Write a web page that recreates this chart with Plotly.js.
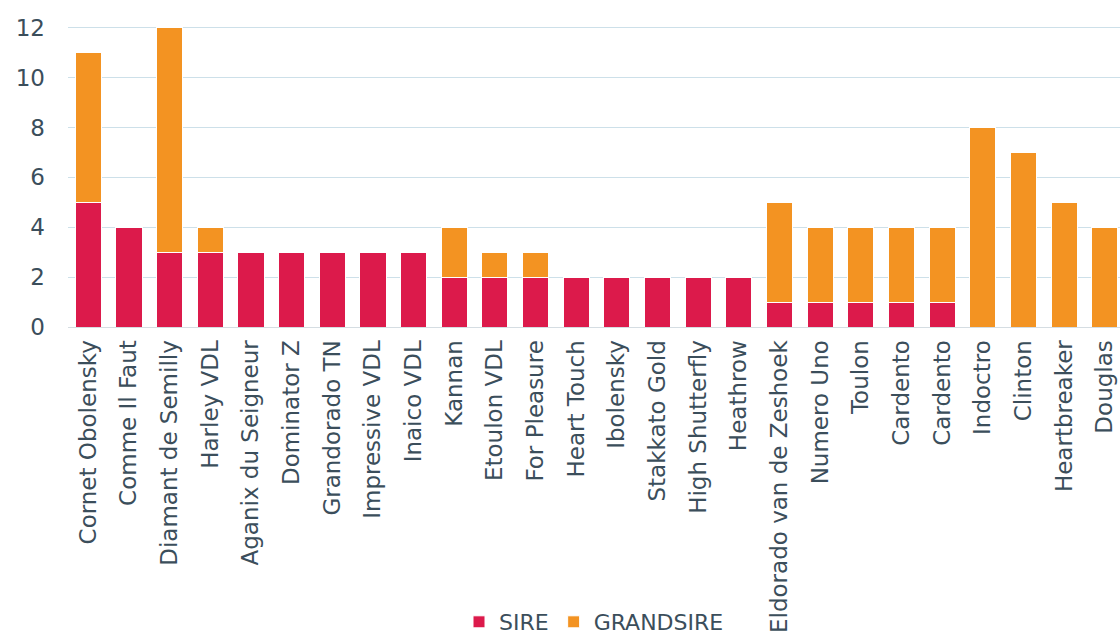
<!DOCTYPE html>
<html>
<head>
<meta charset="utf-8">
<script src="https://cdn.plot.ly/plotly-3.0.1.min.js"></script>
<style>
  html, body { margin: 0; padding: 0; background: #ffffff; }
  #graph { width: 1120px; height: 643px; }
</style>
</head>
<body>
<div id="graph"></div>
<script>
// horses, left to right (Cardento appears twice)
const horses = [
    'Cornet Obolensky', 'Comme Il Faut', 'Diamant de Semilly', 'Harley VDL',
    'Aganix du Seigneur', 'Dominator Z', 'Grandorado TN', 'Impressive VDL',
    'Inaico VDL', 'Kannan', 'Etoulon VDL', 'For Pleasure', 'Heart Touch',
    'Ibolensky', 'Stakkato Gold', 'High Shutterfly', 'Heathrow',
    'Eldorado van de Zeshoek', 'Numero Uno', 'Toulon', 'Cardento', 'Cardento',
    'Indoctro', 'Clinton', 'Heartbreaker', 'Douglas'
];
const sire =      [5, 4, 3, 3, 3, 3, 3, 3, 3, 2, 2, 2, 2, 2, 2, 2, 2, 1, 1, 1, 1, 1, 0, 0, 0, 0];
const grandsire = [6, 0, 9, 1, 0, 0, 0, 0, 0, 2, 1, 1, 0, 0, 0, 0, 0, 4, 3, 3, 3, 3, 8, 7, 5, 4];

const positions = horses.map((h, i) => i);

function plot_stacked() {
    let trace_sire = {
        x: positions,
        y: sire,
        name: 'SIRE',
        type: 'bar',
        marker: {
            color: '#dc1a4b',
            line: { color: '#ffffff', width: 1 }
        }
    };
    let trace_grandsire = {
        x: positions,
        y: grandsire,
        name: 'GRANDSIRE',
        type: 'bar',
        marker: {
            color: '#f39322',
            line: { color: '#ffffff', width: 1 }
        }
    };
    let layout = {
        barmode: 'stack',
        bargap: 0.36,
        width: 1120,
        height: 643,
        margin: { l: 68, r: 0, t: 24, b: 315 },
        paper_bgcolor: '#ffffff',
        plot_bgcolor: '#ffffff',
        font: { family: 'DejaVu Sans, sans-serif', size: 20, color: '#3b4e5b' },
        xaxis: {
            range: [-0.5, 25.37],
            tickmode: 'array',
            tickvals: positions,
            ticktext: horses,
            tickangle: -90,
            tickfont: { size: 23, color: '#3b4e5b' },
            showgrid: false,
            zeroline: false,
            showline: true,
            linecolor: '#d5dde2',
            ticks: '',
            ticklabelstandoff: 3,
            automargin: false
        },
        yaxis: {
            range: [0, 12.15],
            tickvals: [0, 2, 4, 6, 8, 10, 12],
            tickfont: { size: 23, color: '#3b4e5b' },
            showgrid: true,
            gridcolor: '#cde0e9',
            gridwidth: 1,
            zeroline: false,
            ticks: '',
            ticklabelstandoff: 22,
            automargin: false
        },
        legend: {
            orientation: 'h',
            x: 0.5,
            xanchor: 'center',
            y: -0.975,
            yanchor: 'middle',
            font: { size: 22, color: '#3b4e5b' },
            itemwidth: 30,
            traceorder: 'normal'
        },
        showlegend: true
    };
    Plotly.newPlot('graph', [trace_sire, trace_grandsire], layout, { displayModeBar: false });
}

plot_stacked();
</script>
</body>
</html>
